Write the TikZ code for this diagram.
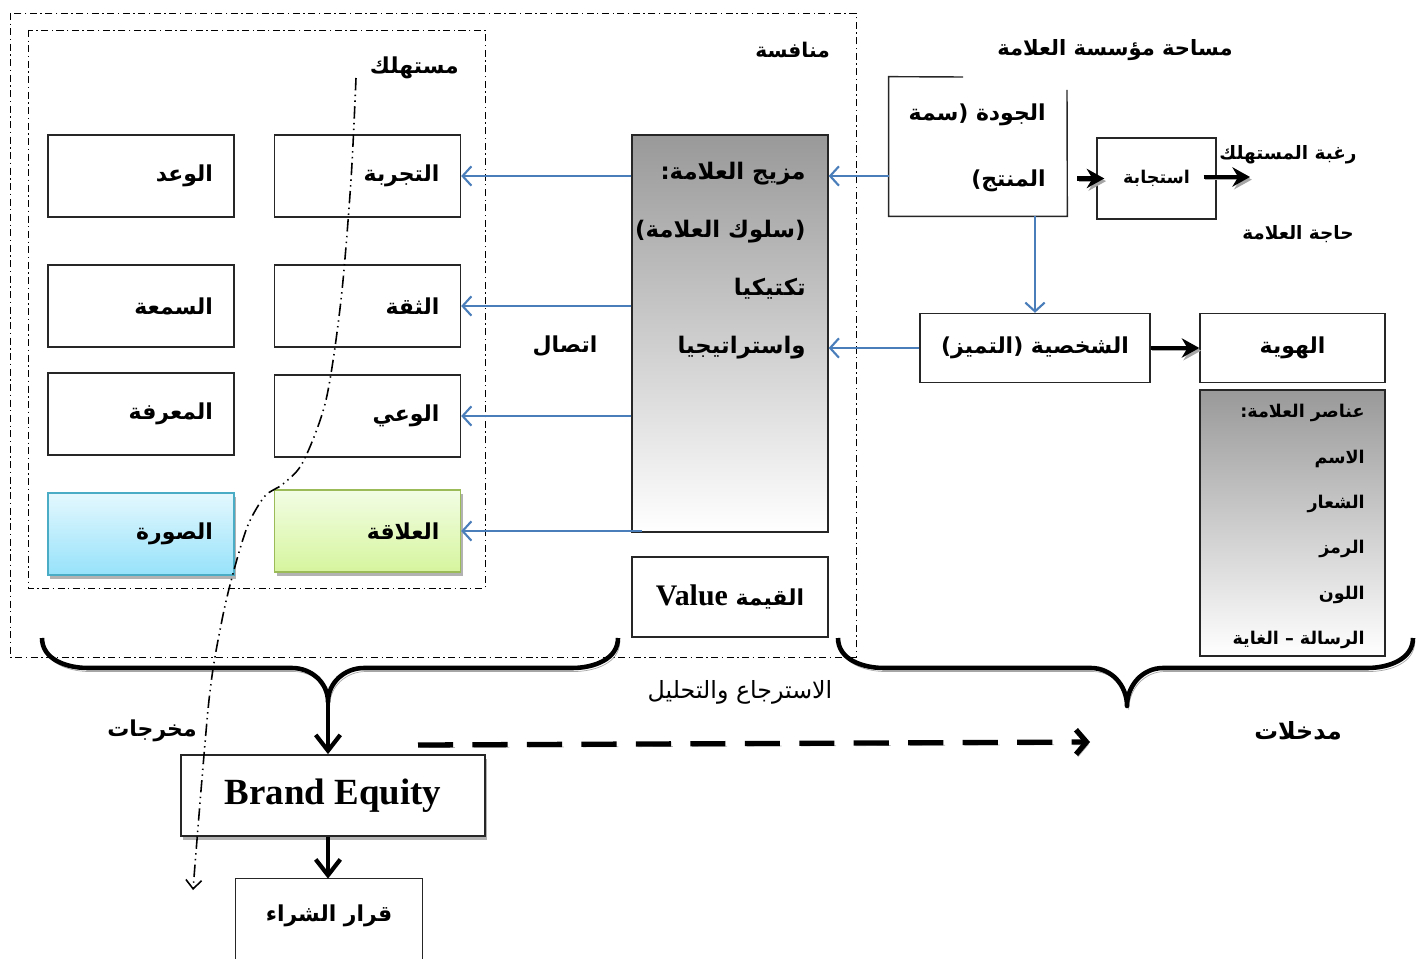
\documentclass[tikz,border=0pt]{standalone}
\usepackage{fontspec}
\usetikzlibrary{arrows.meta,positioning}
\TeXXeTstate=1
\newfontfamily\arabicfont[Script=Arabic]{DejaVu Sans}
\newfontfamily\latinfont{Liberation Serif}
\newcommand{\artext}[1]{\beginR #1\endR}

\definecolor{linkblue}{RGB}{74,126,187}
\definecolor{imgtop}{RGB}{228,248,254}
\definecolor{imgbot}{RGB}{150,226,250}
\definecolor{imgline}{RGB}{75,172,198}
\definecolor{reltop}{RGB}{242,253,228}
\definecolor{relbot}{RGB}{214,245,158}
\definecolor{relline}{RGB}{155,187,89}

\tikzset{
  lbl/.style={font=\arabicfont\bfseries\fontsize{12.5}{15}\selectfont},
  small/.style={font=\arabicfont\bfseries\fontsize{10}{12}\selectfont},
  box/.style={draw=black!85, line width=0.8pt, fill=white, lbl,
    text width=2.88cm, inner xsep=0.42cm, align=right,
    minimum height=1.64cm},
  plainbox/.style={draw=black!85, line width=0.8pt, fill=white},
  graybox/.style={draw=black!85, line width=0.8pt, top color=black!40, bottom color=white},
  shadowed/.style={preaction={fill=black!30, transform canvas={shift={(1.2pt,-2pt)}}}},
  zone/.style={line width=0.5pt, dash pattern=on 4pt off 2pt on 0.8pt off 2pt},
  bluearr/.style={draw=linkblue, line width=1.2pt, -{Straight Barb[length=5pt,width=11pt]}},
  fatarr/.style={line width=2.4pt, -{Stealth[length=10pt,width=11pt]},
    preaction={draw=black!35, transform canvas={shift={(1pt,-1.5pt)}}}},
  brace/.style={line width=2.6pt, line join=round,
    preaction={draw=black!35, transform canvas={shift={(1pt,-2pt)}}}},
  downarr/.style={line width=2.4pt, -{Straight Barb[length=9pt,width=14pt]}},
}

\begin{document}
\begin{tikzpicture}[x=0.02cm, y=-0.02cm]
  \useasboundingbox (0,0) rectangle (1419,959);

  % zones
  \draw[zone] (10,13) rectangle (856,657);
  \draw[zone] (28,30) rectangle (485,588);
  \node[lbl, anchor=east] (consumer) at (465,68) {\artext{مستهلك}};
  \node[lbl, font=\arabicfont\bfseries\fontsize{11.5}{14}\selectfont, anchor=east] (rivals) at (836,50) {\artext{منافسة}};
  \node[lbl, font=\arabicfont\bfseries\fontsize{12}{14}\selectfont] (firmspace) at (1115,50) {\artext{مساحة مؤسسة العلامة}};

  % consumer boxes
  \node[box] (promise) at (141,176) {\artext{الوعد}};
  \node[box] (reput) at (141,306) {\artext{السمعة}};
  \node[box] (know) at (141,414) {\artext{المعرفة}};
  \node[box, shadowed, draw=imgline, top color=imgtop, bottom color=imgbot] (image) at (141,534) {\artext{الصورة}};
  \node[box] (exper) at (367.5,176) {\artext{التجربة}};
  \node[box] (trust) at (367.5,306) {\artext{الثقة}};
  \node[box] (aware) at (367.5,416) {\artext{الوعي}};
  \node[box, shadowed, draw=relline, top color=reltop, bottom color=relbot] (relat) at (367.5,531) {\artext{العلاقة}};

  % brand mix
  \node[graybox, minimum width=3.92cm, minimum height=7.94cm] (mix) at (730,333.5) {};
  \node[lbl, anchor=north east, align=right, inner sep=0pt,
        font=\arabicfont\bfseries\fontsize{13}{33}\selectfont] (mixtxt) at (806,162)
    {\artext{مزيج  العلامة:}\\ \artext{(سلوك العلامة)}\\ \artext{تكتيكيا}\\ \artext{واستراتيجيا}};
  \node[lbl] (contact) at (565,346) {\artext{اتصال}};
  \node[plainbox, lbl, minimum width=3.92cm, minimum height=1.6cm] (value) at (730,597)
    {\artext{القيمة \beginL{\latinfont\bfseries\fontsize{17}{20}\selectfont Value}\endL}};

  % firm side
  \node[minimum width=3.56cm, minimum height=2.78cm] (qual) at (978,146.5) {};
  \draw[line width=0.8pt, black!85] (963,77) -- (qual.north west) -- (qual.south west)
    -- (qual.south east) -- (1067,90);
  \node[lbl, anchor=north east, align=right, inner sep=0pt,
        font=\arabicfont\bfseries\fontsize{12.5}{38}\selectfont] (qualtxt) at (1046,103)
    {\artext{الجودة (سمة}\\ \artext{المنتج)}};
  \node[plainbox, small, minimum width=2.38cm, minimum height=1.62cm] (resp) at (1156.5,178.5) {\artext{استجابة}};
  \node[lbl, font=\arabicfont\bfseries\fontsize{10.5}{13}\selectfont] (want) at (1288,155) {\artext{رغبة المستهلك}};
  \coordinate (wantpt) at (1250,177);
  \node[small, font=\arabicfont\bfseries\fontsize{10.5}{13}\selectfont] (need) at (1298,234) {\artext{حاجة العلامة}};
  \node[plainbox, lbl, minimum width=4.6cm, minimum height=1.38cm] (pers) at (1035,348) {\artext{الشخصية (التميز)}};
  \node[plainbox, lbl, minimum width=3.7cm, minimum height=1.38cm] (ident) at (1292.5,348) {\artext{الهوية}};
  \node[graybox, minimum width=3.7cm, minimum height=5.32cm] (elem) at (1292.5,523) {};
  \node[small, anchor=north east, align=right, inner sep=0pt,
        font=\arabicfont\bfseries\fontsize{10}{25.8}\selectfont] (elemtxt) at (1365,404)
    {\artext{عناصر العلامة:}\\ \artext{الاسم}\\ \artext{الشعار}\\ \artext{الرمز}\\ \artext{اللون}\\ \artext{الرسالة – الغاية}};

  % arrows into the consumer
  \draw[bluearr] (mix.west |- exper.east) -- (exper.east);
  \draw[bluearr] (mix.west |- trust.east) -- (trust.east);
  \draw[bluearr] (mix.west |- aware.east) -- (aware.east);
  \draw[bluearr] ([xshift=0.22cm]mix.west |- relat.east) -- (relat.east);
  \draw[bluearr] (qual.west |- exper.east) -- (mix.east |- exper.east);
  \draw[bluearr] (pers.west) -- (mix.east |- pers.west);
  \draw[bluearr] (qual.south -| pers.north) -- (pers.north);
  \draw[fatarr] ([xshift=0.2cm]qual.east |- resp.west) -- ([xshift=0.16cm]resp.west);
  \draw[fatarr] ([xshift=-0.26cm]resp.east |- wantpt) -- (wantpt);
  \draw[fatarr] (pers.east) -- (ident.west);

  % braces
  \coordinate (outtip) at (328,702);
  \coordinate (intip) at (1127,706);
  \draw[brace] (42,638) to[out=-90,in=180] (88,668) -- (292,668)
    to[out=0,in=90] (outtip) to[out=90,in=180] (364,668) -- (572,668) to[out=0,in=-90] (618,638);
  \draw[brace] (838,638) to[out=-90,in=180] (884,668) -- (1091,668)
    to[out=0,in=90] (intip) to[out=90,in=180] (1163,668) -- (1367,668) to[out=0,in=-90] (1413,638);
  \node[font=\arabicfont\fontsize{13.5}{16}\selectfont] (recall) at (740,692) {\artext{الاسترجاع والتحليل}};
  \node[lbl, font=\arabicfont\bfseries\fontsize{13.5}{16}\selectfont] (inputs) at (1298,731) {\artext{مدخلات}};
  \node[lbl] (outputs) at (152,731) {\artext{مخرجات}};

  % equity and decision
  \node[plainbox, shadowed, line width=1pt, minimum width=6.08cm, minimum height=1.62cm,
        font=\latinfont\bfseries\fontsize{21}{24}\selectfont] (equity) at (333,795.5) {Brand Equity};
  \node[lbl, minimum width=3.72cm, minimum height=1.48cm] (buy) at (329,916) {\artext{قرار الشراء}};
  \draw[line width=0.8pt, black!85] ([yshift=-1cm]buy.south west) -- (buy.north west)
    -- (buy.north east) -- ([yshift=-1cm]buy.south east);
  \draw[downarr] (outtip) -- (outtip |- equity.north);
  \draw[downarr] (outtip |- equity.south) -- (outtip |- buy.north);

  \coordinate (dashA) at (418,745);
  \coordinate (dashB) at (1090,742);
  \draw[line width=3pt, dash pattern=on 20pt off 11pt, -{Straight Barb[length=6pt,width=14pt]},
        preaction={draw=black!30, dash pattern=on 20pt off 11pt, transform canvas={shift={(1pt,-1.5pt)}}}]
    (dashA) -- (dashB);

  % the path of the consumer
  \draw[line width=0.9pt, dash pattern=on 7pt off 2.5pt on 0.8pt off 2.5pt on 0.8pt off 2.5pt,
        -{Straight Barb[length=5pt,width=9pt]}]
    plot[smooth] coordinates {(356,78) (351,180) (341,300) (326,400) (303,462) (283,484)
      (265,496) (248,525) (234,570) (222,620) (209,700) (193,890)};
\end{tikzpicture}
\end{document}
